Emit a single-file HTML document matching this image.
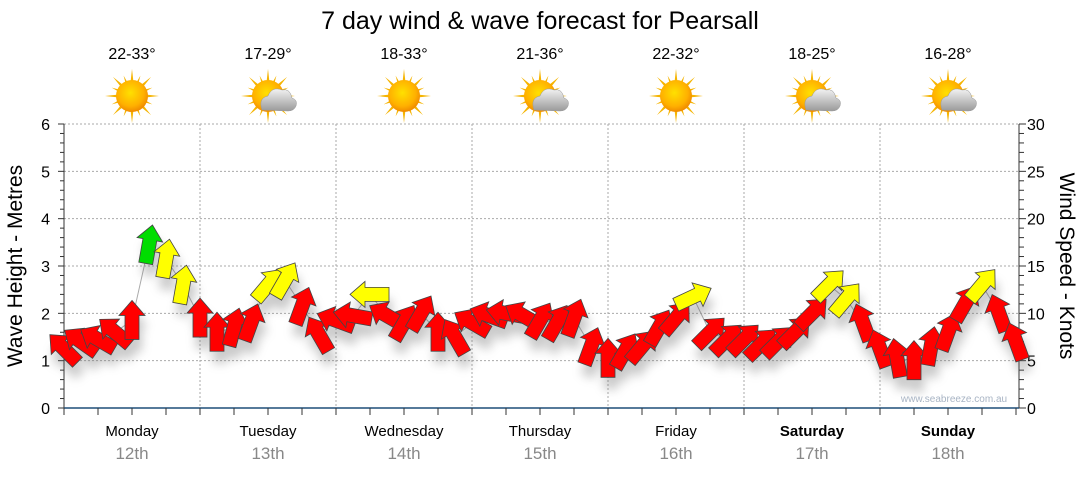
<!DOCTYPE html>
<html><head><meta charset="utf-8"><style>
body{margin:0;background:#fff;width:1080px;height:475px;overflow:hidden;font-family:"Liberation Sans",sans-serif}
</style></head><body>
<svg id="c" width="1080" height="475" style="font-family:'Liberation Sans','DejaVu Sans',sans-serif">
<defs>
<radialGradient id="sunG" cx="45%" cy="40%" r="60%"><stop offset="0" stop-color="#ffe000"/><stop offset="0.7" stop-color="#ffb000"/><stop offset="1" stop-color="#f08a00"/></radialGradient>
<linearGradient id="cloudG" x1="0" y1="0" x2="0" y2="1"><stop offset="0" stop-color="#f2f2f2"/><stop offset="1" stop-color="#9a9a9a"/></linearGradient>
<filter id="sh" x="-50%" y="-50%" width="200%" height="200%"><feGaussianBlur stdDeviation="5"/></filter>
</defs>
<text x="540" y="29" font-size="25" text-anchor="middle" fill="#000">7 day wind &amp; wave forecast for Pearsall</text>
<g id="grid"></g><g id="axes"></g><g id="wx"></g><g id="series"></g>
<text x="954" y="402" font-size="10" fill="#a8b4c4" text-anchor="middle">www.seabreeze.com.au</text>
<text transform="translate(22,266) rotate(-90)" font-size="21" text-anchor="middle">Wave Height - Metres</text>
<text transform="translate(1060,266) rotate(90)" font-size="21" text-anchor="middle">Wind Speed - Knots</text>
</svg>
<script>
const days=["Monday","Tuesday","Wednesday","Thursday","Friday","Saturday","Sunday"];
const dates=["12th","13th","14th","15th","16th","17th","18th"];
const temps=["22-33°","17-29°","18-33°","21-36°","22-32°","18-25°","16-28°"];
const icons=["sun","cloud","sun","cloud","sun","cloud","cloud"];
const waveTicks=[0,1,2,3,4,5,6];
const windTicks=[0,5,10,15,20,25,30];
const waveH=[1.25,1.4,1.45,1.6,1.85,3.45,3.15,2.6, 1.9,1.6,1.7,1.8,2.6,2.7,2.15,1.55, 1.85,1.95,2.4,1.95,1.8,2.0,1.6,1.5, 1.8,1.95,2.0,1.95,1.85,1.8,1.9,1.3, 1.05,1.2,1.3,1.7,1.9,2.35,1.6,1.45, 1.45,1.35,1.4,1.6,2.0,2.6,2.3,1.8, 1.25,1.05,1.0,1.3,1.6,2.2,2.6,2.0,1.4];
const windDir=[-45,-55,-60,-50,0,10,10,10, 0,0,15,20,40,30,20,-30, -70,-80,-90,-60,30,30,0,-30, -60,-70,-80,-60,30,30,20,20, 0,30,40,30,40,65,45,45, 45,45,45,45,45,45,40,-20, -20,-10,0,10,20,30,40,-20,-20];
const windSpd=[8,9,9,10,12,21,17,16, 12,10,10,11,15,16,12,10, 10,11,15,10,10,11,10,9, 10,11,11,10,10,10,11,9, 8,8,9,10,12,15,10,9, 9,9,9,10,12,16,15,11, 8,7,7,8,10,12,15,11,9];
const X0=64,X1=1019,Y0=408,YT=124,DW=136;
const xS=i=>X0+i*17;
const yW=v=>Y0-(v/6)*(Y0-YT);
const NS="http://www.w3.org/2000/svg";
function mk(t,a,p){const e=document.createElementNS(NS,t);for(const k in a)e.setAttribute(k,a[k]);p.appendChild(e);return e;}
const grid=document.getElementById('grid'),axes=document.getElementById('axes'),wx=document.getElementById('wx'),ser=document.getElementById('series');
waveTicks.forEach(v=>{if(v>0){const l=mk('line',{x1:X0,x2:X1,y1:yW(v),y2:yW(v),stroke:'#aaa','stroke-dasharray':'2,2'},grid);

}
const t=mk('text',{x:50,y:yW(v)+6,'font-size':16,'text-anchor':'end'},axes);t.textContent=v;

});
windTicks.forEach(v=>{const t=mk('text',{x:1027,y:yW(v/5)+6,'font-size':16},axes);t.textContent=v;

});
for(let k=0;k<=30;k++){const y=Y0-k*(Y0-YT)/30;mk('line',{x1:X0-(k%5?4:6),x2:X0,y1:y,y2:y,stroke:'#333'},axes);mk('line',{x1:X1,x2:X1+(k%5?5:7),y1:y,y2:y,stroke:'#333'},axes);}
mk('line',{x1:X0,x2:X0,y1:YT,y2:Y0,stroke:'#333'},axes);mk('line',{x1:X1,x2:X1,y1:YT,y2:Y0,stroke:'#333'},axes);
mk('line',{x1:X0,x2:X1,y1:Y0,y2:Y0,stroke:'#1f4e79','stroke-width':1.5},axes);
for(let k=0;k<=28;k++){const x=X0+k*34;if(x<=X1)mk('line',{x1:x,x2:x,y1:Y0,y2:Y0+7,stroke:'#333'},axes);}
days.forEach((d,i)=>{const cx=X0+DW*i+DW/2;
if(i>0){const g=mk('line',{x1:X0+DW*i,x2:X0+DW*i,y1:YT,y2:Y0,stroke:'#aaa','stroke-dasharray':'2,2'},grid);

}
const t=mk('text',{x:cx,y:436,'font-size':15,'text-anchor':'middle','font-weight':i>=5?'bold':'normal'},axes);t.textContent=d;


const t2=mk('text',{x:cx,y:459,'font-size':17,'text-anchor':'middle',fill:'#888'},axes);t2.textContent=dates[i];


const t3=mk('text',{x:cx,y:59,'font-size':16,'text-anchor':'middle'},wx);t3.textContent=temps[i];


const g=mk('g',{transform:`translate(${cx},96)`},wx);


for(let r=0;r<16;r++){const a=r*22.5,L=r%2?22:27;mk('polygon',{points:`-3,0 3,0 0,-${L}`,fill:'#f5b400',transform:`rotate(${a})`},g);}
mk('circle',{r:16,fill:'url(#sunG)'},g);
if(icons[i]=='cloud'){mk('path',{d:'M-6,14 Q-10,2 0,0 Q4,-10 14,-6 Q22,-8 24,2 Q30,4 28,10 Q26,15 20,15 Z',fill:'url(#cloudG)',stroke:'#999','stroke-width':0.5},g);}
});
let d='';waveH.forEach((v,i)=>{d+=(i?'L':'M')+xS(i)+','+yW(v);});
const ln=mk('path',{d,fill:'none',stroke:'#aaa','stroke-width':1},ser);


const shp='M0,-20 L13,-5 L7,-5 L7,19 L-7,19 L-7,-5 L-13,-5 Z';
const sg=mk('g',{filter:'url(#sh)',opacity:0.35},ser);
waveH.forEach((v,i)=>{mk('path',{d:shp,fill:'#666',transform:`translate(${xS(i)+3},${yW(v)+12}) rotate(${windDir[i]})`},sg);});
waveH.forEach((v,i)=>{const s=windSpd[i];const col=s>=20?'#00dd00':s>=15?'#ffff00':'#ff0000';
const a=mk('path',{d:shp,fill:col,stroke:'#444','stroke-width':0.8,transform:`translate(${xS(i)},${yW(v)}) rotate(${windDir[i]})`},ser);

});
</script>
</body></html>
